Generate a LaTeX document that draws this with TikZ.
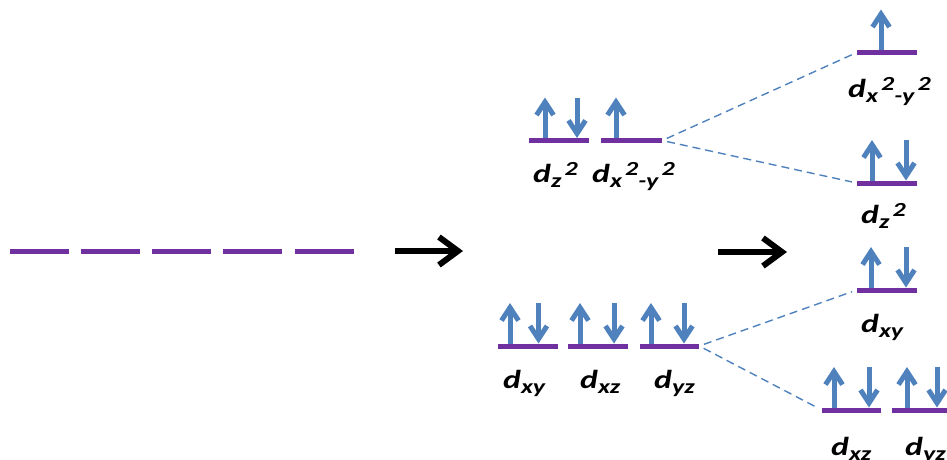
\documentclass[tikz,border=0pt]{standalone}
\usepackage{fontspec}
\setmainfont{Carlito}
\usetikzlibrary{arrows.meta}
\definecolor{lvlc}{HTML}{7030A0}
\definecolor{elb}{HTML}{4F81BD}
\newcommand\lsb[1]{\raisebox{-5pt}{\fontsize{20}{20}\selectfont #1}}
\newcommand\lsp[1]{\hspace{2.5pt}\raisebox{7pt}{\fontsize{20}{20}\selectfont #1}}
\newcommand\dlab[1]{\scalebox{1.3}[1]{d#1}}
\newcommand\elup[2]{\draw[elec] (#1,#2-2.5) -- (#1,#2-43);}
\newcommand\eldn[2]{\draw[elec] (#1,#2-43) -- (#1,#2-2.5);}
\begin{document}
\begin{tikzpicture}[x=1pt,y=-1pt,
  lvl/.style={fill=lvlc, draw=none, inner sep=0pt, minimum height=5pt, minimum width=60pt},
  elec/.style={draw=elb, line width=5pt, -{Straight Barb[length=13pt,width=17pt]}},
  bigarrow/.style={draw=black, line width=6pt, -{Straight Barb[length=19pt,width=28pt]}},
  split/.style={draw=elb, line width=1.4pt, dash pattern=on 8pt off 5pt, shorten <=5pt, shorten >=5pt},
  lab/.style={inner sep=0pt, anchor=base west, font=\fontsize{26}{28}\selectfont\bfseries\itshape}]
\useasboundingbox (0,0) rectangle (947,459);
\clip (0,0) rectangle (947,459);
% degenerate levels
\node[lvl, minimum width=59pt] (f1) at (39.5,251) {};
\node[lvl, minimum width=59pt] (f2) at (110,251) {};
\node[lvl, minimum width=59pt] (f3) at (181.5,251) {};
\node[lvl, minimum width=59pt] (f4) at (252.5,251) {};
\node[lvl, minimum width=59pt] (f5) at (324.5,251) {};
% arrows
\coordinate (a1s) at (395,251);
\coordinate (a1e) at (463,251);
\coordinate (a2s) at (718,252);
\coordinate (a2e) at (787,252);
\draw[bigarrow] (a1s) -- (a1e);
\draw[bigarrow] (a2s) -- (a2e);
% middle levels
\node[lvl] (m1) at (559,140.5) {};
\node[lvl, minimum width=61pt] (m2) at (631.5,140.5) {};
\node[lvl] (b1) at (528,346) {};
\node[lvl] (b2) at (598,346) {};
\node[lvl, minimum width=59pt] (b3) at (669.5,346) {};
% right levels
\node[lvl] (r1) at (887,52.5) {};
\node[lvl] (r2) at (887,183) {};
\node[lvl] (r3) at (887,290) {};
\node[lvl, minimum width=59pt] (r4) at (851.5,410) {};
\node[lvl, minimum width=59pt] (r5) at (921.5,410) {};
% dashed correlations
\draw[split] (m2.east) -- (r1.west);
\draw[split] (m2.east) -- (r2.west);
\draw[split] (b3.east) -- (r3.west);
\draw[split] (b3.east) -- (r4.west);
% electrons
\elup{545}{140.5}\eldn{577}{140.5}
\elup{616}{140.5}
\elup{510}{346}\eldn{538.5}{346}
\elup{580}{346}\eldn{614}{346}
\elup{651}{346}\eldn{684}{346}
\elup{881}{52.5}
\elup{872}{183}\eldn{906}{183}
\elup{871}{290}\eldn{906}{290}
\elup{834}{410}\eldn{869}{410}
\elup{907}{410}\eldn{937}{410}
% labels
\node[lab] (lm1) at (533,182) {\dlab{\lsb{z}\lsp{2}}};
\node[lab] (lm2) at (592,182) {\dlab{\lsb{x}\lsp{2}\lsb{-y}\lsp{2}}};
\node[lab] (lb1) at (503,388) {\dlab{\lsb{xy}}};
\node[lab] (lb2) at (580,388) {\dlab{\lsb{xz}}};
\node[lab] (lb3) at (654,388) {\dlab{\lsb{yz}}};
\node[lab] (lr1) at (848,97) {\dlab{\lsb{x}\lsp{2}\lsb{-y}\lsp{2}}};
\node[lab] (lr2) at (861,223) {\dlab{\lsb{z}\lsp{2}}};
\node[lab] (lr3) at (861,332) {\dlab{\lsb{xy}}};
\node[lab] (lr4) at (831,455) {\dlab{\lsb{xz}}};
\node[lab] (lr5) at (905,455) {\dlab{\lsb{yz}}};
\end{tikzpicture}
\end{document}
